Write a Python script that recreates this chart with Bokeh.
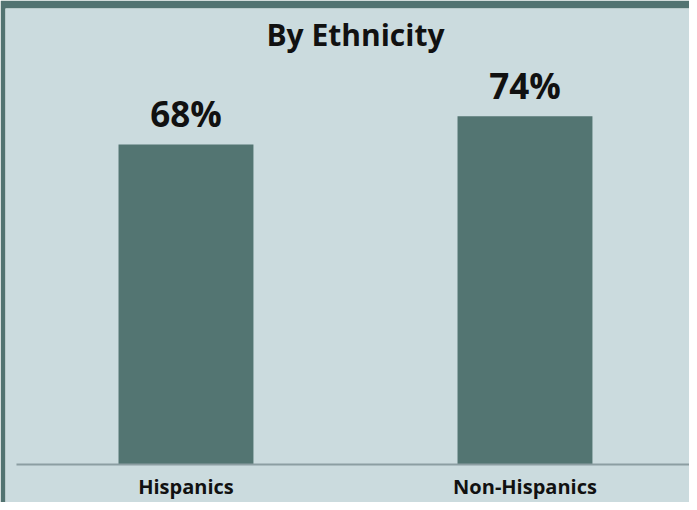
from bokeh.plotting import figure
from bokeh.models import ColumnDataSource, Label, Range1d
from bokeh.core.properties import value
from bokeh.embed import file_html
from bokeh.resources import INLINE

categories = ["Hispanics", "Non-Hispanics"]
percentages = [68, 74]
labels = ["68%", "74%"]
title_text = "By Ethnicity"

BG = "#cbdbde"
BAR = "#537572"
DARK = "#527371"
AXIS = "#8c9ea2"
FONT = "Open Sans"

xs = list(range(len(categories)))
src = ColumnDataSource(dict(x=xs, val=percentages, lab=labels, cat=categories,
                            zero=[0] * len(xs)))

# frame covers image x 5..689, y 8..502; value 0 sits at image y 464
p = figure(width=689, height=502, x_range=Range1d(-0.5324, 1.4853),
           y_range=Range1d(-8.08, 96.9), output_backend="svg", toolbar_location=None,
           min_border_left=5, min_border_right=0, min_border_top=8, min_border_bottom=0)
p.background_fill_color = BG
p.border_fill_color = DARK
p.outline_line_color = None
p.grid.visible = False
p.axis.visible = False

p.vbar(x="x", top="val", width=0.398, source=src, fill_color=BAR, line_color=None)
p.text(x="x", y="val", text="lab", source=src, text_align="center",
       text_baseline="alphabetic", y_offset=-31, text_font=value(FONT),
       text_font_style="bold", text_font_size="35px", text_color="#111111")

# baseline (category axis line)
p.segment(x0=[-0.5], y0=[0], x1=[1.4853], y1=[0], line_color=AXIS, line_width=2)

# category labels
p.text(x="x", y="zero", text="cat", source=src, text_align="center",
       text_baseline="alphabetic", y_offset=22, text_font=value(FONT),
       text_font_style="bold", text_font_size="20px", text_color="#111111")

p.add_layout(Label(x=0.5, y=91.4, text=title_text, text_align="center",
                   text_baseline="alphabetic", text_font=FONT, text_font_style="bold",
                   text_font_size="30px", text_color="#111111"))

open("out.html", "w").write(file_html(p, INLINE))
